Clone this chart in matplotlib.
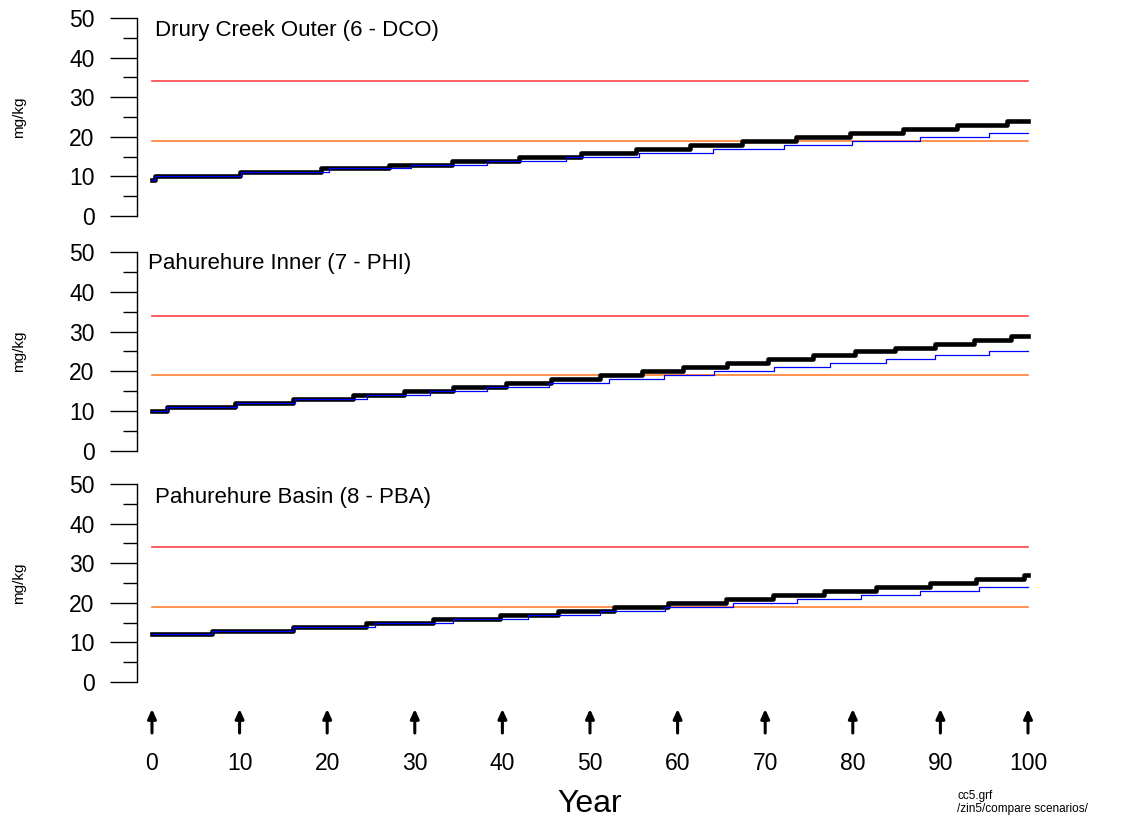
import matplotlib
matplotlib.use("Agg")
import matplotlib.pyplot as plt
from matplotlib.transforms import blended_transform_factory
from matplotlib.ticker import MultipleLocator

plt.rcParams['font.family'] = ['Liberation Sans', 'DejaVu Sans']

# ---- data ----
titles = ["Drury Creek Outer (6 - DCO)", "Pahurehure Inner (7 - PHI)", "Pahurehure Basin (8 - PBA)"]
red_level = 34
orange_level = 19

p1_black_t = [0, 0.3, 10.0, 19.3, 27.0, 34.3, 41.9, 49.0, 55.3, 61.4, 67.3, 73.5, 79.7, 85.7, 91.9, 97.6, 100]
p1_black_v = [9, 10, 11, 12, 13, 14, 15, 16, 17, 18, 19, 20, 21, 22, 23, 24, 24]
p1_blue_t = [0, 0.3, 10.2, 20.2, 29.6, 38.2, 47.3, 55.6, 64.0, 72.1, 79.9, 87.7, 95.5, 100]
p1_blue_v = [9, 10, 11, 12, 13, 14, 15, 16, 17, 18, 19, 20, 21, 21]

p2_black_t = [0, 1.75, 9.5, 16.1, 23.0, 28.8, 34.4, 40.4, 45.6, 51.1, 55.9, 60.6, 65.6, 70.3, 75.5, 80.3, 84.8, 89.4, 93.8, 98.1, 100]
p2_black_v = [10, 11, 12, 13, 14, 15, 16, 17, 18, 19, 20, 21, 22, 23, 24, 25, 26, 27, 28, 29, 29]
p2_blue_t = [0, 1.75, 9.7, 16.3, 24.5, 31.7, 38.3, 45.3, 52.2, 58.4, 64.2, 71.0, 77.4, 83.8, 89.4, 95.5, 100]
p2_blue_v = [10, 11, 12, 13, 14, 15, 16, 17, 18, 19, 20, 21, 22, 23, 24, 25, 25]

p3_black_t = [0, 6.9, 16.1, 24.4, 32.1, 39.7, 46.4, 52.7, 58.9, 65.5, 70.9, 76.7, 82.7, 88.8, 94.1, 99.5, 100]
p3_black_v = [12, 13, 14, 15, 16, 17, 18, 19, 20, 21, 22, 23, 24, 25, 26, 27, 27]
p3_blue_t = [0, 6.9, 16.1, 25.5, 34.4, 42.9, 51.1, 58.6, 66.3, 73.6, 80.9, 87.7, 94.4, 100]
p3_blue_v = [12, 13, 14, 15, 16, 17, 18, 19, 20, 21, 22, 23, 24, 24]

year_ticks = [0, 10, 20, 30, 40, 50, 60, 70, 80, 90, 100]
y_ticks = [0, 10, 20, 30, 40, 50]

panels = [
    (p1_black_t, p1_black_v, p1_blue_t, p1_blue_v),
    (p2_black_t, p2_black_v, p2_blue_t, p2_blue_v),
    (p3_black_t, p3_black_v, p3_blue_t, p3_blue_v),
]

W, H = 1121, 822
fig = plt.figure(figsize=(W / 100, H / 100), dpi=100)

# pixel geometry (top, bottom) for each panel
panel_px = [(18, 216), (252, 451), (484, 682)]
left_px, right_px = 137, 1040
title_pos = [(0.3, 46.9), (-0.45, 47.0), (0.35, 46.7)]

axes = []
for i, (top, bot) in enumerate(panel_px):
    ax = fig.add_axes([left_px / W, (H - bot) / H, (right_px - left_px) / W, (bot - top) / H])
    axes.append(ax)
    bt, bv, ut, uv = panels[i]
    ax.plot([0, 100], [red_level, red_level], color='#ff4444', lw=1.2, zorder=2)
    ax.plot([0, 100], [orange_level, orange_level], color='#ff8030', lw=1.2, zorder=2)
    ax.plot(bt, bv, drawstyle='steps-post', color='black', lw=3.3, zorder=3)
    ax.plot(ut, uv, drawstyle='steps-post', color='#0000ff', lw=0.9, zorder=4)
    ax.set_xlim(-1.71, 101.37)
    ax.set_ylim(0, 50)
    for s in ['top', 'right', 'bottom']:
        ax.spines[s].set_visible(False)
    ax.spines['left'].set_linewidth(1.0)
    ax.set_xticks([])
    ax.set_yticks(y_ticks)
    ax.yaxis.set_minor_locator(MultipleLocator(5))
    ax.tick_params(axis='y', which='major', length=19.5, width=1.0, pad=11, labelsize=16.5)
    ax.tick_params(axis='y', which='minor', length=10, width=1.0)
    ax.set_ylabel('mg/kg', fontsize=11)
    ax.text(title_pos[i][0], title_pos[i][1], titles[i], fontsize=16, ha='left', va='center')
    ax.patch.set_visible(False)

# align y labels
for ax in axes:
    ax.yaxis.set_label_coords((26 - left_px) / (right_px - left_px), 0.5)

# arrows and year labels below
trans = blended_transform_factory(axes[2].transData, fig.transFigure)
y_arrow_bot = (H - 733) / H
y_arrow_top = (H - 709) / H
y_lab = (H - 763) / H
for yr in year_ticks:
    axes[2].annotate('', xy=(yr, y_arrow_top), xycoords=trans,
                     xytext=(yr, y_arrow_bot), textcoords=trans,
                     arrowprops=dict(arrowstyle='-|>,head_length=0.55,head_width=0.25',
                                     color='black', lw=2.2, shrinkA=0, shrinkB=0),
                     annotation_clip=False)
    fig.text(yr, y_lab, str(yr), transform=trans, ha='center', va='center', fontsize=16.5)

fig.text(50, (H - 804) / H, 'Year', transform=trans, ha='center', va='center', fontsize=23)
fig.text(957 / W, (H - 796) / H, 'cc5.grf', ha='left', va='center', fontsize=8.5)
fig.text(957 / W, (H - 809) / H, '/zin5/compare scenarios/', ha='left', va='center', fontsize=8.5)

fig.savefig('out.png', dpi=100)
